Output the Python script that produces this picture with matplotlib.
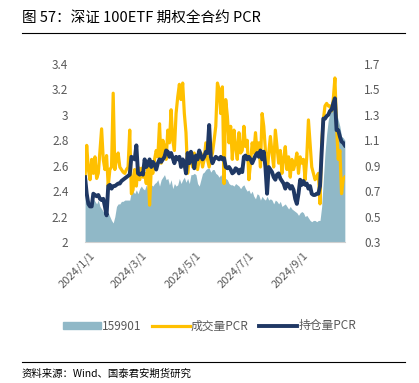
import numpy as np
import pandas as pd
import matplotlib
matplotlib.use('Agg')
import matplotlib.pyplot as plt
from matplotlib.lines import Line2D
from matplotlib.patches import Patch

plt.rcParams['font.family'] = ['Noto Sans CJK SC', 'DejaVu Sans']

# 159901 close (left axis)
etf_price = [
    2.38, 2.36, 2.33, 2.30, 2.28, 2.34, 2.32, 2.30, 2.33, 2.28,
    2.26, 2.24, 2.25, 2.20, 2.23, 2.20, 2.17, 2.15, 2.20, 2.28,
    2.30, 2.30, 2.32, 2.32, 2.33, 2.33, 2.33, 2.33, 2.40, 2.40,
    2.38, 2.41, 2.38, 2.42, 2.44, 2.42, 2.41, 2.45, 2.41, 2.44,
    2.45, 2.44, 2.46, 2.47, 2.49, 2.44, 2.49, 2.51, 2.53, 2.49,
    2.50, 2.45, 2.49, 2.42, 2.46, 2.44, 2.45, 2.50, 2.46, 2.49,
    2.51, 2.47, 2.50, 2.46, 2.53, 2.53, 2.54, 2.53, 2.46, 2.44,
    2.49, 2.54, 2.55, 2.57, 2.58, 2.58, 2.55, 2.57,
    2.57, 2.54, 2.53, 2.51, 2.53, 2.50, 2.51, 2.50, 2.49, 2.46,
    2.45, 2.45, 2.44, 2.46, 2.45, 2.44, 2.42, 2.44, 2.45, 2.42,
    2.40, 2.41, 2.38, 2.40, 2.36, 2.34, 2.38, 2.37, 2.33, 2.36,
    2.34, 2.33, 2.36, 2.33, 2.34, 2.33, 2.30, 2.33, 2.32, 2.30,
    2.32, 2.28, 2.29, 2.30, 2.28, 2.26, 2.28, 2.26, 2.25, 2.24,
    2.23, 2.21, 2.23, 2.24, 2.23, 2.20, 2.21, 2.19, 2.17, 2.16,
    2.17, 2.17, 2.16, 2.17, 2.17, 2.28, 2.49, 2.70, 2.85, 2.96,
    3.01, 3.04, 3.06, 3.09, 3.01, 2.96, 2.91, 2.83, 2.82, 2.80,
]

# volume PCR (right axis)
vol_pcr = [
    0.81, 1.06, 0.87, 0.79, 0.95, 0.84, 0.97, 0.80, 0.84, 1.02,
    1.19, 0.95, 0.87, 0.98, 0.74, 0.87, 0.89, 1.47, 0.87, 0.95,
    1.00, 0.89, 0.87, 0.85, 0.84, 0.87, 0.89, 1.18, 0.68, 0.71,
    0.87, 0.74, 0.89, 0.79, 0.88, 0.81, 0.84, 0.76, 0.92, 0.59,
    0.87, 0.84, 0.95, 1.02, 0.97, 1.23, 0.92, 1.10, 1.05, 0.95,
    1.18, 1.08, 1.34, 1.10, 1.02, 1.31, 1.44, 1.54, 1.42, 1.55,
    1.31, 1.16, 0.84, 0.95, 0.97, 0.89, 1.00, 0.95, 0.87, 0.95,
    1.00, 0.89, 0.95, 1.08, 0.95, 0.89, 0.95, 1.00,
    1.10, 1.21, 1.55, 1.50, 1.31, 1.52, 0.76, 1.42, 1.29, 1.08,
    1.21, 0.95, 1.18, 1.05, 0.95, 1.16, 1.00, 1.02, 1.21, 1.05,
    1.10, 0.79, 0.92, 1.08, 1.00, 1.16, 1.00, 1.08, 0.89, 1.31,
    1.21, 1.02, 0.81, 1.00, 1.13, 1.00, 0.89, 1.18, 1.05, 0.92,
    1.02, 0.84, 0.95, 1.05, 0.87, 0.97, 0.81, 0.95, 0.87, 0.92,
    1.00, 0.84, 0.97, 0.92, 0.95, 0.79, 0.97, 1.26, 1.08, 0.89,
    0.84, 0.79, 0.81, 0.84, 0.60, 1.08, 1.26, 1.37, 1.39, 1.37,
    1.37, 1.33, 1.42, 1.59, 1.21, 0.95, 1.02, 0.68, 0.79, 0.81,
]

# open interest PCR (right axis)
oi_pcr = [
    0.81, 0.68, 0.60, 0.58, 0.58, 0.68, 0.67, 0.66, 0.67, 0.64,
    0.63, 0.64, 0.58, 0.51, 0.74, 0.75, 0.72, 0.74, 0.74, 0.75,
    0.76, 0.76, 0.78, 0.79, 0.80, 0.81, 0.82, 0.83, 0.97, 0.96,
    0.95, 1.06, 0.84, 0.83, 0.84, 0.83, 0.95, 0.89, 0.91, 0.95,
    0.89, 0.93, 0.91, 0.87, 0.92, 0.95, 0.93, 0.95, 0.97, 1.02,
    1.01, 0.97, 1.00, 0.96, 0.92, 0.97, 0.95, 0.97, 0.89, 0.95,
    0.92, 0.84, 1.00, 0.92, 1.01, 0.96, 0.88, 0.98, 0.95, 1.02,
    0.98, 0.95, 0.97, 1.01, 1.00, 1.22, 0.97, 0.92,
    0.95, 0.97, 0.96, 0.95, 0.97, 0.95, 0.96, 0.89, 0.88, 0.89,
    0.87, 0.84, 0.85, 0.88, 0.87, 0.84, 0.87, 0.85, 0.97, 0.98,
    0.95, 0.97, 0.95, 0.92, 0.95, 0.98, 1.00, 0.97, 1.02, 0.95,
    1.01, 0.89, 0.68, 0.89, 0.87, 0.85, 0.81, 0.79, 0.83, 0.84,
    0.80, 0.78, 0.76, 0.72, 0.76, 0.75, 0.72, 0.74, 0.71, 0.64,
    0.60, 0.68, 0.79, 0.75, 0.78, 0.75, 0.76, 0.72, 0.74, 0.68,
    0.67, 0.67, 0.68, 0.68, 0.74, 1.00, 1.27, 1.27, 1.29, 1.30,
    1.33, 1.34, 1.39, 1.43, 1.18, 1.18, 1.13, 1.09, 1.08, 1.06,
]

dates = pd.date_range('2023-12-27', '2024-10-19', periods=len(etf_price))
tick_dates = pd.to_datetime(['2024-01-01', '2024-03-01', '2024-05-01', '2024-07-01', '2024-09-01'])
tick_labels = ['2024/1/1', '2024/3/1', '2024/5/1', '2024/7/1', '2024/9/1']

c_area = '#90B8C7'
c_vol = '#FFC000'
c_oi = '#1F3864'
c_txt = '#595959'

fig = plt.figure(figsize=(4.19, 3.83), dpi=100)
ax = fig.add_axes([0.203, 0.368, 0.62, 0.465])
ax2 = ax.twinx()

ax.fill_between(dates, 2.0, etf_price, color=c_area, lw=0)
ax2.plot(dates, vol_pcr, color=c_vol, lw=2.3, solid_joinstyle='round')
ax2.plot(dates, oi_pcr, color=c_oi, lw=2.8, solid_joinstyle='round')

ax.set_ylim(2.0, 3.4)
ax.set_yticks([2.0, 2.2, 2.4, 2.6, 2.8, 3.0, 3.2, 3.4])
ax.set_yticklabels(['2', '2.2', '2.4', '2.6', '2.8', '3', '3.2', '3.4'])
ax2.set_ylim(0.3, 1.7)
ax2.set_yticks([0.3, 0.5, 0.7, 0.9, 1.1, 1.3, 1.5, 1.7])
ax2.set_yticklabels(['0.3', '0.5', '0.7', '0.9', '1.1', '1.3', '1.5', '1.7'])
ax.set_xlim(dates[0], dates[-1])
ax.set_xticks(tick_dates)
ax.set_xticklabels(tick_labels, rotation=45, ha='right', rotation_mode='anchor')

for a in (ax, ax2):
    for s in a.spines.values():
        s.set_visible(False)
    a.tick_params(length=0, labelsize=8.5, labelcolor=c_txt)
ax.tick_params(axis='x', labelsize=8)
ax.spines['bottom'].set_visible(True)
ax.spines['bottom'].set_color('#D0D0D0')
ax.tick_params(axis='y', pad=12)
ax.tick_params(axis='x', pad=6)
ax2.tick_params(axis='y', pad=14)

handles = [Patch(color=c_area), Line2D([], [], color=c_vol, lw=2.3),
           Line2D([], [], color=c_oi, lw=2.8)]
fig.legend(handles, ['159901', '成交量PCR', '持仓量PCR'], loc='center',
           bbox_to_anchor=(0.5, 1 - 326 / 383), ncol=3, frameon=False,
           fontsize=8.5, labelcolor=c_txt, handlelength=3.2, handletextpad=0.1,
           columnspacing=0.9, handleheight=0.6)

fig.text(22 / 419, 1 - 18 / 383, '图 57：深证 100ETF 期权全合约 PCR', fontsize=10.5,
         va='center', ha='left', color='black')
fig.add_artist(Line2D([22 / 419, 405 / 419], [1 - 33 / 383] * 2, color='black', lw=0.8))
fig.add_artist(Line2D([22 / 419, 405 / 419], [1 - 362 / 383] * 2, color='black', lw=0.8))
fig.text(22 / 419, 1 - 374 / 383, '资料来源：Wind、国泰君安期货研究', fontsize=7.5,
         va='center', ha='left', color='black')

fig.savefig('out.png', dpi=100)
